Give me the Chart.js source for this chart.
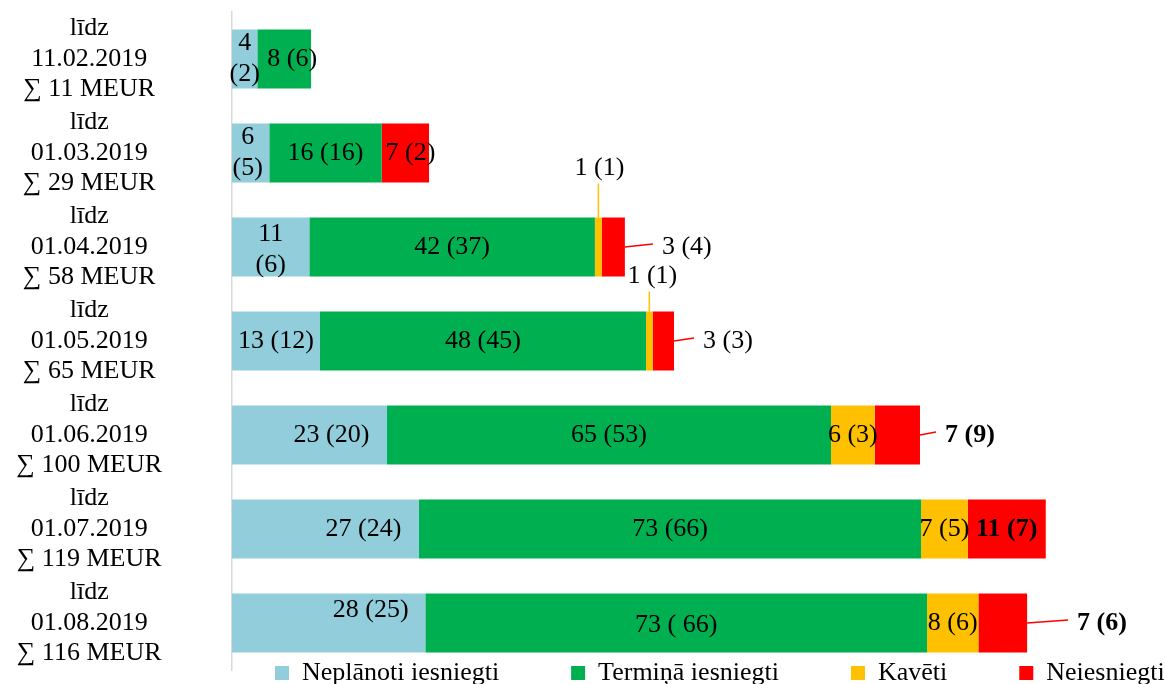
<!DOCTYPE html>
<html lang="lv">
<head>
<meta charset="utf-8">
<title>Projektu iesniegšana</title>
<script src="https://cdn.jsdelivr.net/npm/chart.js@4.4.1/dist/chart.umd.min.js"></script>
<style>
  html, body { margin: 0; padding: 0; background: #fff; }
  #kaste { position: relative; width: 1165px; height: 684px; }
</style>
</head>
<body>
<div id="kaste"><canvas id="grafiksProjekti"></canvas></div>
<script>
// Datumi un summas (y ass)
const datumi = ["11.02.2019", "01.03.2019", "01.04.2019", "01.05.2019", "01.06.2019", "01.07.2019", "01.08.2019"];
const summas = [11, 29, 58, 65, 100, 119, 116];

// Vērtības (nolasītas no joslu garuma)
const neplanoti = [3.68, 5.42, 11.24, 12.79, 22.53, 27.18, 28.1];
const termina = [7.81, 16.34, 41.5, 47.38, 64.53, 72.97, 72.92];
const kaveti = [0, 0, 1.02, 0.97, 6.35, 6.78, 7.46];
const neiesniegti = [0, 6.88, 3.34, 3.1, 6.58, 11.34, 7.08];

// Etiķetes: "tagad (iepriekš)"
const neplanotiTxt = ["4\n(2)", "6\n(5)", "11\n(6)", "13 (12)", "23 (20)", "27 (24)", "28 (25)"];
const terminaTxt = ["8 (6)", "16 (16)", "42 (37)", "48 (45)", "65 (53)", "73 (66)", "73 ( 66)"];
const kavetiTxt = ["", "", "1 (1)", "1 (1)", "6 (3)", "7 (5)", "8 (6)"];
const neiesniegtiTxt = ["", "7 (2)", "3 (4)", "3 (3)", "7 (9)", "11 (7)", "7 (6)"];

const kategorijas = datumi.map((d, i) => ["līdz", d, "∑ " + summas[i] + " MEUR"]);

const fonts = "'Liberation Serif', 'Times New Roman', serif";
Chart.defaults.font.family = fonts;
Chart.defaults.color = "#000";

// etiķešu novietojums (dataset-index)
const vietas = {
  "0-1": { dx: -3 },
  "0-2": { dy: 3 },
  "0-4": { dx: 22 },
  "0-5": { dx: 38 },
  "0-6": { dx: 42, dy: -13 },
  "1-0": { dx: 8 },
  "1-6": { dy: 2 },
  "3-1": { dx: 5 },
  "2-2": { virs: 49, dx: 1 },
  "2-3": { virs: 35, dx: 3 },
  "3-2": { labi: 37 },
  "3-3": { labi: 29 },
  "3-4": { labi: 25, bold: true },
  "3-5": { bold: true },
  "3-6": { labi: 50, bold: true },
};

// datu etiķetes ar vadlīnijām
const etiketes = {
  id: "etiketes",
  afterDatasetsDraw(chart) {
    const ctx = chart.ctx;
    ctx.save();
    ctx.textAlign = "center";
    ctx.textBaseline = "middle";
    ctx.fillStyle = "#000";

    chart.data.datasets.forEach((ds, d) => {
      const meta = chart.getDatasetMeta(d);
      meta.data.forEach((josla, i) => {
        const txt = ds.etiketes[i];
        if (!txt) return;
        const v = vietas[d + "-" + i] || {};
        const { x, y, base, height } = josla.getProps(["x", "y", "base", "height"], true);

        ctx.font = (v.bold ? "bold " : "") + "26px " + fonts;
        let tx = (x + base) / 2 + (v.dx || 0);
        let ty = y + (v.dy || 0);

        ctx.strokeStyle = ds.backgroundColor;
        ctx.lineWidth = 1.5;

        if (v.virs) {
          const augsa = y - height / 2;
          ty = augsa - v.virs;
          ctx.beginPath();
          ctx.moveTo(tx - (v.dx || 0), augsa);
          ctx.lineTo(tx - (v.dx || 0), ty + 15);
          ctx.stroke();
        }

        if (v.labi) {
          const w = ctx.measureText(txt).width;
          ctx.beginPath();
          ctx.moveTo(x, y);
          ctx.lineTo(x + v.labi - 9, y - 3);
          ctx.stroke();
          tx = x + v.labi + w / 2;
        }

        const rindas = txt.split("\n");
        rindas.forEach((r, k) => {
          ctx.fillText(r, tx, ty + (k - (rindas.length - 1) / 2) * 31);
        });
      });
    });
    ctx.restore();
  },
};

// leģenda apakšā, pārklājas ar grafika laukumu
const legendaVieta = {
  id: "legendaVieta",
  beforeInit(chart) {
    const fitOrig = chart.legend.fit;
    chart.legend.fit = function () {
      fitOrig.call(this);
      this.height = 14;
    };
  },
  afterLayout(chart) {
    const l = chart.legend;
    l.left = 203;
    l.right = 1400;
    l.top = 588;
    l.bottom = 700;
    l.width = l.right - l.left;
    l.height = l.bottom - l.top;
  },
};

const grafiksProjekti = new Chart(document.getElementById("grafiksProjekti"), {
  type: "bar",

  data: {
    labels: kategorijas,

    datasets: [
      {
        label: "Neplānoti iesniegti",
        data: neplanoti,
        etiketes: neplanotiTxt,
        backgroundColor: "#92CDDC",
      },
      {
        label: "Termiņā iesniegti",
        data: termina,
        etiketes: terminaTxt,
        backgroundColor: "#00B050",
      },
      {
        label: "Kavēti",
        data: kaveti,
        etiketes: kavetiTxt,
        backgroundColor: "#FFC000",
      },
      {
        label: "Neiesniegti",
        data: neiesniegti,
        etiketes: neiesniegtiTxt,
        backgroundColor: "#FF0000",
      },
    ],
  },

  options: {
    indexAxis: "y",
    responsive: true,
    maintainAspectRatio: false,
    animation: false,

    barPercentage: 0.628,
    categoryPercentage: 1,

    layout: {
      padding: { top: 12, left: 0, right: 0, bottom: 0 },
    },

    plugins: {
      tooltip: { enabled: false },
      legend: {
        position: "bottom",
        align: "start",
        labels: {
          boxWidth: 14,
          boxHeight: 14,
          padding: 72,
          color: "#000",
          font: { size: 26 },
        },
      },
    },

    scales: {
      x: {
        stacked: true,
        display: false,
        min: 0,
        max: 135.6,
      },
      y: {
        stacked: true,
        grid: { display: false, drawTicks: false },
        border: { display: true, color: "#D9D9D9", width: 1.5 },
        ticks: {
          autoSkip: false,
          crossAlign: "center",
          padding: 70,
          color: "#000",
          font: { size: 26, lineHeight: 1.17 },
        },
        afterFit(scale) {
          scale.width = 232;
          scale.paddingTop = 0;
          scale.paddingBottom = 0;
        },
      },
    },
  },

  plugins: [etiketes, legendaVieta],
});
</script>
</body>
</html>
